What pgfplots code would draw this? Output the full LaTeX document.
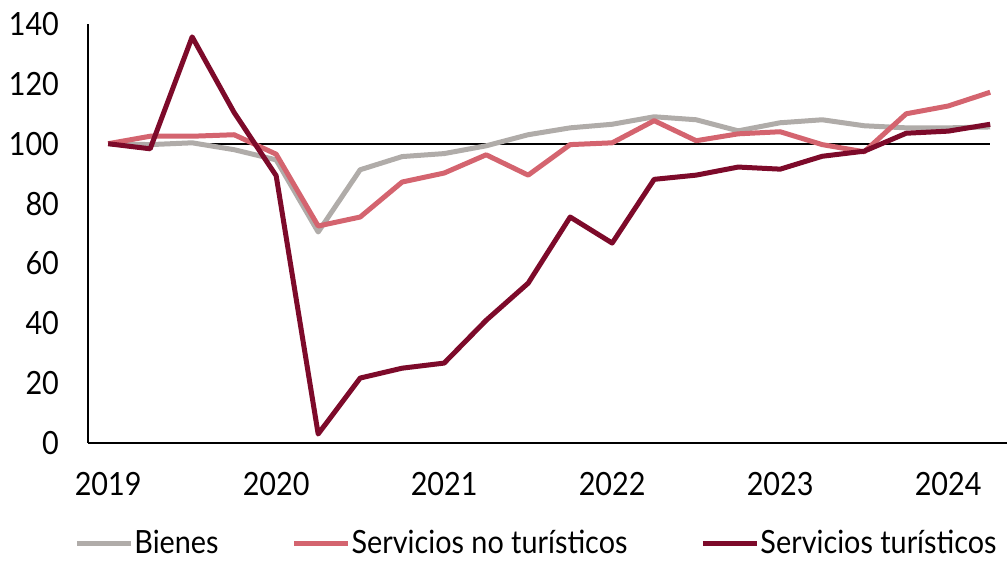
\documentclass[border=0pt]{standalone}
\usepackage{fontspec}
\setmainfont[FakeStretch=0.9]{Lato}
\usepackage{pgfplots}
\pgfplotsset{compat=1.18}
\usetikzlibrary{calc}
\definecolor{bienes}{HTML}{B0ACA9}
\definecolor{notur}{HTML}{D4646F}
\definecolor{tur}{HTML}{7D0A2A}
\begin{document}
\fontsize{16}{19}\selectfont
\begin{tikzpicture}
\begin{axis}[
  scale only axis, width=459.5pt, height=209.5pt,
  xmin=-0.48, xmax=21.4, ymin=0, ymax=140,
  axis x line=bottom, axis y line=left,
  axis line style={-, line width=0.8pt},
  xtick={0,4,8,12,16,20}, xticklabels={2019,2020,2021,2022,2023,2024},
  ytick={0,20,...,140},
  major tick length=0pt,
  xticklabel style={yshift=-9pt},
  yticklabel style={xshift=-9pt},
  tick label style={font=\fontsize{16}{19}\selectfont},
  /pgf/number format/assume math mode=true,
  clip=false,
  legend columns=3,
  legend style={draw=none, fill=none, at={(0.4875,0)}, anchor=center, yshift=-50.5pt,
    font=\fontsize{16}{19}\selectfont, nodes={inner sep=0.5pt},
    /tikz/every even column/.append style={column sep=36pt}},
  legend image code/.code={\draw[#1] (0pt,0pt) -- (27pt,0pt);},
  every axis plot/.append style={line width=2.5pt, line join=round},
]
\coordinate (O) at (rel axis cs:0,0);
\addplot[black, line width=0.8pt, forget plot] coordinates {(0,100) (21,100)};
\addplot[bienes] coordinates {
(0,100) (1,99.7) (2,100.3) (3,98) (4,94.6) (5,70.5) (6,91.3) (7,95.7) (8,96.7) (9,99.3) (10,103) (11,105.3) (12,106.5) (13,109) (14,108) (15,104.3) (16,107) (17,108) (18,106) (19,105.3) (20,105.3) (21,105.6)};
\addlegendentry{Bienes}
\addplot[notur] coordinates {
(0,100) (1,102.5) (2,102.5) (3,103) (4,96.5) (5,72.5) (6,75.5) (7,87.2) (8,90.2) (9,96.3) (10,89.5) (11,99.7) (12,100.3) (13,107.7) (14,101) (15,103.3) (16,104) (17,99.7) (18,97.3) (19,110) (20,112.6) (21,117.2)};
\addlegendentry{Servicios no turísticos}
\addplot[tur] coordinates {
(0,100) (1,98.3) (2,135.7) (3,110.4) (4,89.3) (5,3.0) (6,21.7) (7,25) (8,26.7) (9,41) (10,53.4) (11,75.5) (12,66.8) (13,88.1) (14,89.5) (15,92.2) (16,91.5) (17,95.8) (18,97.5) (19,103.5) (20,104.2) (21,106.5)};
\addlegendentry{Servicios turísticos}
\end{axis}
\pgfresetboundingbox
\useasboundingbox ($(O)+(-44pt,-59pt)$) rectangle +(503.5pt,280.5pt);
\end{tikzpicture}
\end{document}
